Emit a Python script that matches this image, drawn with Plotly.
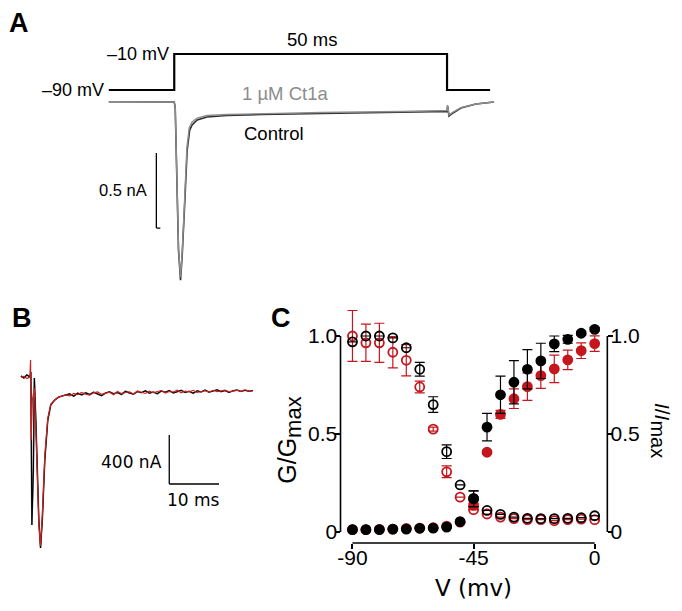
import plotly.graph_objects as go

W, H = 682, 611
FONT = "Arial, Liberation Sans, Helvetica, sans-serif"
WIDE = "DejaVu Sans, Verdana, sans-serif"
RED = "#c4161c"

# ---------------- Panel A data ----------------
step_t = [-12.0, 0.0, 0.0, 50.0, 50.0, 57.9]
step_v = [-90, -90, -10, -10, -90, -90]

ctrl_t = [-12.0, -0.1, 0.0, 0.18, 0.36, 0.55, 0.78, 1.15, 1.46, 1.95, 2.37, 2.83, 3.28, 4.2, 6.0,
          9.67, 16.06, 27.0, 41.6, 50.0, 50.1, 50.36, 51.1, 52.55, 55.3, 58.6]
ctrl_I = [0.0, 0.0, -0.002, -0.042, -0.322, -0.655, -0.989, -1.189, -1.022, -0.655, -0.322, -0.189,
          -0.155, -0.122, -0.102, -0.092, -0.085, -0.079, -0.072, -0.065, -0.029, -0.095, -0.075,
          -0.042, -0.015, -0.002]

ct1a_t = [-12.0, -0.1, 0.0, 0.18, 0.36, 0.55, 0.78, 1.15, 1.46, 1.92, 2.32, 2.74, 3.28, 4.2, 6.0,
          9.67, 16.06, 27.0, 41.6, 50.0, 50.1, 50.36, 51.1, 52.55, 55.3, 58.6]
ct1a_I = [0.0, 0.0, -0.002, -0.035, -0.309, -0.642, -0.975, -1.169, -1.002, -0.642, -0.309, -0.175,
          -0.135, -0.109, -0.092, -0.085, -0.079, -0.072, -0.065, -0.059, -0.022, -0.089, -0.069,
          -0.039, -0.015, -0.002]

# ---------------- Panel B data ----------------
b_ctrl_t = [0.0, 0.6, 1.2, 1.8, 2.0, 2.2, 2.5, 2.7, 3.0, 3.6, 3.94, 4.3, 4.8, 5.4, 6.0, 6.8, 7.6, 8.4]
b_ctrl_I = [131, 115, 140, 122, 163, -1086, -637, 114, -229, -1045, -1273, -1045, -555, -229, -106,
            -65, -41, -33]
b_red_t = [0.0, 0.6, 1.2, 1.8, 1.94, 2.06, 2.3, 2.7, 3.0, 3.6, 3.94, 4.3, 4.8, 5.4, 6.0, 6.8, 7.6, 8.4]
b_red_I = [122, 128, 110, 122, 261, -392, -65, 33, -310, -1086, -1257, -1004, -514, -212, -98,
           -65, -41, -33]
b_plat_t = [9.0 + 0.8 * i for i in range(48)]
b_ctrl_plat = [-28, -15, -34, -10, -24, -6, -20, -2, -16, -30, -8, 2, -14, -4, -20, 6, -8, -18, 4, -6,
               10, -10, 0, -14, 8, -2, 12, -8, 2, 14, -4, 6, -10, 10, 0, 16, -2, 8, 18, 2, 12, -4,
               10, 16, 4, 14, 6, 12]
b_red_plat = [-24, -32, -12, -22, -4, -18, -26, -6, 0, -20, -10, -2, -22, 4, -12, -6, 2, -16, 8, -2,
              -12, 6, -6, 4, 12, -8, 4, 0, 14, -6, 8, 2, 14, -4, 6, 10, 0, 14, 4, 10, 16, 2, 8,
              14, 6, 18, 8, 10]

# ---------------- Panel C data ----------------
volt = [-90, -85, -80, -75, -70, -65, -60, -55, -50, -45, -40, -35, -30, -25, -20, -15, -10, -5, 0]
inact_ctrl = [0.97, 1.0, 1.0, 0.99, 0.94, 0.83, 0.65, 0.41, 0.24, 0.17, 0.11, 0.09, 0.076, 0.07,
              0.068, 0.068, 0.07, 0.073, 0.083]
inact_ctrl_err = [0, 0, 0, 0, 0, 0.035, 0.04, 0.035, 0, 0.04, 0, 0, 0, 0, 0, 0, 0, 0, 0]
inact_ct1a = [1.0, 0.965, 0.965, 0.917, 0.876, 0.74, 0.525, 0.307, 0.178, 0.114, 0.092, 0.076,
              0.068, 0.063, 0.063, 0.058, 0.063, 0.066, 0.063]
inact_ct1a_err = [0.13, 0.095, 0.10, 0.08, 0.08, 0.03, 0.01, 0.03, 0, 0, 0, 0, 0, 0, 0, 0, 0, 0, 0]
act_ctrl = [0.012, 0.012, 0.012, 0.015, 0.015, 0.019, 0.02, 0.025, 0.053, 0.17, 0.535, 0.70, 0.764,
            0.83, 0.873, 0.96, 0.983, 1.014, 1.034]
act_ctrl_err = [0, 0, 0, 0, 0, 0, 0, 0, 0, 0.04, 0.07, 0.095, 0.11, 0.10, 0.09, 0.04, 0.02, 0.01, 0.01]
act_ct1a = [0.012, 0.012, 0.014, 0.015, 0.018, 0.02, 0.022, 0.03, 0.05, 0.136, 0.407, 0.60, 0.68,
            0.742, 0.798, 0.832, 0.878, 0.925, 0.961]
act_ct1a_err = [0, 0, 0, 0, 0, 0, 0, 0, 0, 0.01, 0.01, 0.02, 0.05, 0.07, 0.065, 0.07, 0.05, 0.04, 0.04]
c_ticks = [0, 0.5, 1.0]
c_ticktext = ["0", "0.5", "1.0"]
v_ticks = [-90, -45, 0]
v_ticktext = ["-90", "-45", "0"]


def dx(px):
    return px / W


def dy(py):
    return 1 - py / H


fig = go.Figure()

# Panel A
fig.add_trace(go.Scatter(x=step_t, y=step_v, mode="lines", xaxis="x", yaxis="y2",
                         line=dict(color="black", width=2.2), showlegend=False))
fig.add_trace(go.Scatter(x=ctrl_t, y=ctrl_I, mode="lines", xaxis="x", yaxis="y",
                         line=dict(color="#2e2e2e", width=1.6), showlegend=False))
fig.add_trace(go.Scatter(x=ct1a_t, y=ct1a_I, mode="lines", xaxis="x", yaxis="y",
                         line=dict(color="#8c8c8c", width=1.4), showlegend=False))

# Panel B
fig.add_trace(go.Scatter(x=b_ctrl_t + b_plat_t, y=b_ctrl_I + b_ctrl_plat, mode="lines",
                         xaxis="x2", yaxis="y3", line=dict(color="#6a6a6a", width=1.6),
                         showlegend=False))
fig.add_trace(go.Scatter(x=b_ctrl_t + b_plat_t, y=b_ctrl_I + b_ctrl_plat, mode="lines",
                         xaxis="x2", yaxis="y3", line=dict(color="black", width=1.1),
                         showlegend=False))
fig.add_trace(go.Scatter(x=b_red_t + b_plat_t, y=b_red_I + b_red_plat, mode="lines",
                         xaxis="x2", yaxis="y3", line=dict(color="#d01f1f", width=1.2),
                         showlegend=False))

# Panel C
# invisible helper so the right-hand axis is drawn
fig.add_trace(go.Scatter(x=[volt[0]], y=[c_ticks[0]], mode="markers", xaxis="x3", yaxis="y5",
                         marker=dict(opacity=0), hoverinfo="skip", showlegend=False))


def add_c(y, err, color, symbol, size):
    fig.add_trace(go.Scatter(
        x=volt, y=y, mode="markers", xaxis="x3", yaxis="y4", showlegend=False,
        error_y=dict(type="data", array=err, color=color, thickness=1.2, width=5),
        marker=dict(symbol=symbol, size=size, color=color, line=dict(color=color, width=1.8)),
        cliponaxis=False))


add_c(inact_ct1a, inact_ct1a_err, RED, "circle-open", 9)
add_c(act_ct1a, act_ct1a_err, RED, "circle", 9)
add_c(inact_ctrl, inact_ctrl_err, "black", "circle-open", 9)
add_c(act_ctrl, act_ctrl_err, "black", "circle", 9)

# axis ranges from pixel geometry
a_x_dom = (100, 500)
a_px_per_ms = 5.48
a_t0_px = 172
a_xrange = [(a_x_dom[0] - a_t0_px) / a_px_per_ms, (a_x_dom[1] - a_t0_px) / a_px_per_ms]

hidden = dict(visible=False, showgrid=False, zeroline=False)

tickfont = dict(family=FONT, size=21, color="black")
c_yrange = [-0.056, 1.158]
c_axis_common = dict(showgrid=False, zeroline=False, showline=False, ticks="outside",
                     ticklen=5, tickwidth=1.5, tickcolor="black", tickfont=tickfont)

fig.update_layout(
    width=W, height=H, autosize=False,
    margin=dict(l=0, r=0, t=0, b=0),
    paper_bgcolor="white", plot_bgcolor="rgba(0,0,0,0)",
    font=dict(family=FONT, color="black"),
    xaxis=dict(domain=[dx(100), dx(500)], range=a_xrange, anchor="y", **hidden),
    yaxis=dict(domain=[dy(290), dy(95)], range=[-1.2547, 0.0447], anchor="x", **hidden),
    yaxis2=dict(domain=[dy(100), dy(45)], range=[-112.2, 10], anchor="x", **hidden),
    xaxis2=dict(domain=[dx(15), dx(260)], range=[-0.6, 48.4], anchor="y3", **hidden),
    yaxis3=dict(domain=[dy(560), dy(350)], range=[-1371.4, 342.9], anchor="x2", **hidden),
    xaxis3=dict(domain=[dx(339), dx(607)], range=[-94.44, 4.7], anchor="y4",
                tickvals=v_ticks, ticktext=v_ticktext, ticklabelstandoff=-9, **c_axis_common),
    yaxis4=dict(domain=[dy(543), dy(305)], range=c_yrange, anchor="x3",
                tickvals=c_ticks, ticktext=c_ticktext, ticklabelstandoff=-7, **c_axis_common),
    yaxis5=dict(overlaying="y4", side="right", anchor="x3", range=c_yrange,
                tickvals=c_ticks, ticktext=c_ticktext, ticklabelstandoff=-7, **c_axis_common),
)

shapes = [
    # Panel A scale bar
    dict(type="line", xref="x", yref="y", x0=-3.28, x1=-3.28, y0=-0.342, y1=-0.842,
         line=dict(color="black", width=1.3)),
    dict(type="line", xref="x", yref="y", x0=-3.28, x1=-2.55, y0=-0.842, y1=-0.842,
         line=dict(color="black", width=1.3)),
    # Panel B scale bar
    dict(type="line", xref="x2", yref="y3", x0=29.8, x1=29.8, y0=-351, y1=-751,
         line=dict(color="black", width=1.3)),
    dict(type="line", xref="x2", yref="y3", x0=29.8, x1=39.8, y0=-751, y1=-751,
         line=dict(color="black", width=1.3)),
    # Panel C axis lines
    dict(type="line", xref="x3 domain", yref="y4", x0=0, x1=0, y0=0, y1=1.0,
         line=dict(color="black", width=1.6)),
    dict(type="line", xref="x3 domain", yref="y4", x0=1, x1=1, y0=0, y1=1.0,
         line=dict(color="black", width=1.6)),
    dict(type="line", xref="x3", yref="y4 domain", x0=-90, x1=0, y0=0, y1=0,
         line=dict(color="black", width=1.6)),
]
fig.update_layout(shapes=shapes)

ann = []


def txt(text, x, y, xref, yref, size, color="black", xanchor="center", yanchor="middle",
        angle=0, xshift=0, yshift=0, family=FONT):
    ann.append(dict(text=text, x=x, y=y, xref=xref, yref=yref, showarrow=False,
                    font=dict(family=family, size=size, color=color), xanchor=xanchor,
                    yanchor=yanchor, textangle=angle, xshift=xshift, yshift=yshift))


# panel letters
txt("<b>A</b>", dx(16), dy(23), "paper", "paper", 27)
txt("<b>B</b>", dx(19), dy(318), "paper", "paper", 27)
txt("<b>C</b>", dx(279), dy(318), "paper", "paper", 27)

# panel A texts
txt("\u201390 mV", -12.04, -90, "x", "y2", 18, xanchor="right", xshift=-3)
txt("\u201310 mV", 0, -10, "x", "y2", 18, xanchor="right", xshift=-3)
txt("50 ms", 25.2, -10, "x", "y2", 18.5, yanchor="bottom", yshift=2)
txt("1 \u00b5M Ct1a", dx(283), dy(93), "paper", "paper", 18.5, color="#8c8c8c")
txt("Control", 18.2, -0.209, "x", "y", 18.5)
txt("0.5 nA", -4.4, -0.589, "x", "y", 16.5, xanchor="right", xshift=-1)

# panel B texts
txt("400 nA", 29.0, -571, "x2", "y3", 17, xanchor="right", xshift=-1, family=WIDE)
txt("10 ms", 34.6, -882, "x2", "y3", 17, family=WIDE)

# panel C titles
txt("G/G<sub><span style='font-size:22px'>max</span></sub>", dx(287), dy(440), "paper", "paper",
    25, angle=-90)
txt("<i>I</i>/<i>I</i><sub><span style='font-size:20px'>max</span></sub>", dx(661), dy(430),
    "paper", "paper", 21, angle=90)
txt("V (mv)", dx(473), dy(588), "paper", "paper", 23, family=WIDE)

fig.update_layout(annotations=ann)

fig.write_html("out.html", config={"displayModeBar": False},
               post_script="document.body.style.margin='0';document.body.style.overflow='hidden';")
